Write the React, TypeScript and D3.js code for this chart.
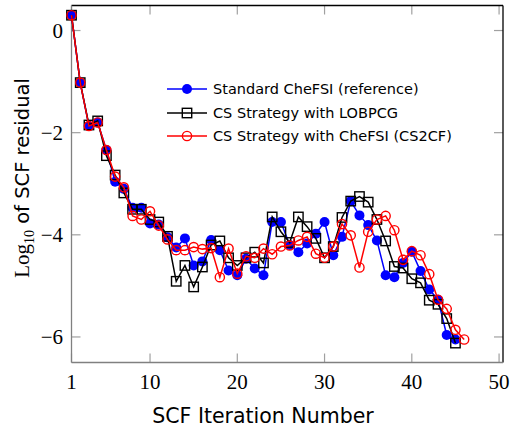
import React from 'react';
import * as d3 from 'd3';

// SCF iteration numbers and log10 residuals for each strategy
const standardIters = d3.range(1, 46);
const standardResidual = [
  0.30, -1.02, -1.87, -1.80, -2.34, -2.96, -3.10, -3.47, -3.47, -3.78,
  -3.80, -4.05, -4.25, -4.07, -4.60, -4.52, -4.10, -4.30, -4.70, -4.79,
  -4.47, -4.66, -4.79, -3.75, -3.75, -4.20, -4.34, -4.17, -3.98, -3.75,
  -4.40, -4.04, -3.34, -3.62, -3.81, -4.11, -4.79, -4.83, -4.55, -4.33,
  -4.71, -5.07, -5.27, -5.96, -6.05,
];

const lobpcgIters = d3.range(1, 46);
const lobpcgResidual = [
  0.30, -1.02, -1.85, -1.77, -2.45, -2.83, -3.18, -3.50, -3.50, -3.70,
  -3.75, -4.03, -4.91, -4.60, -5.02, -4.63, -4.20, -4.12, -4.45, -4.60,
  -4.45, -4.34, -4.55, -3.65, -3.94, -4.15, -3.65, -3.84, -4.07, -4.45,
  -4.23, -3.66, -3.34, -3.25, -3.36, -3.70, -4.12, -4.62, -4.65, -4.86,
  -4.94, -5.28, -5.36, -5.64, -6.12,
];

const cs2cfIters = d3.range(1, 47);
const cs2cfResidual = [
  0.30, -1.02, -1.87, -1.80, -2.34, -2.86, -3.07, -3.63, -3.70, -3.54,
  -3.82, -4.09, -4.30, -4.30, -4.24, -4.28, -4.26, -4.83, -4.27, -4.76,
  -4.42, -4.45, -4.27, -4.38, -4.23, -4.21, -4.11, -4.04, -4.37, -4.45,
  -4.23, -3.79, -4.01, -4.64, -3.94, -3.70, -3.63, -3.91, -4.49, -4.32,
  -4.40, -4.77, -5.27, -5.45, -5.86, -6.05,
];

const xTicks = [1, 10, 20, 30, 40, 50];
const yTicks = [0, -2, -4, -6];

const legendLabels = [
  'Standard CheFSI (reference)',
  'CS Strategy with LOBPCG',
  'CS Strategy with CheFSI (CS2CF)',
];

const W = 514;
const H = 433;
const left = 71.5;
const right = 503;
const top = 5.5;
const bottom = 362.5;

export default function App() {
  const x = d3.scaleLinear().domain([1, 50.45]).range([left, right]);
  const y = d3.scaleLinear().domain([-6.5, 0.49]).range([bottom, top]);

  const line = d3
    .line<[number, number]>()
    .x((d) => x(d[0]))
    .y((d) => y(d[1]));

  const blue = standardIters.map((it, i) => [it, standardResidual[i]] as [number, number]);
  const black = lobpcgIters.map((it, i) => [it, lobpcgResidual[i]] as [number, number]);
  const red = cs2cfIters.map((it, i) => [it, cs2cfResidual[i]] as [number, number]);

  const tickLen = 9;
  const tickColor = '#a0a0a0';
  const sq = 4.7;

  const legendY = [89, 113, 136];
  const lx0 = 167;
  const lx1 = 207;
  const lmid = (lx0 + lx1) / 2;

  return (
    <svg
      width={W}
      height={H}
      style={{ position: 'absolute', left: 0, top: 0, background: '#fff' }}
    >
      {/* ticks, inward on all four sides */}
      {xTicks.map((t) => (
        <g key={'xt' + t}>
          <line x1={x(t)} x2={x(t)} y1={bottom} y2={bottom - tickLen} stroke={tickColor} strokeWidth={1.2} />
          <line x1={x(t)} x2={x(t)} y1={top} y2={top + tickLen} stroke={tickColor} strokeWidth={1.2} />
          <text
            x={x(t)}
            y={389}
            textAnchor="middle"
            fontFamily="'Liberation Serif', 'DejaVu Serif', serif"
            fontSize={21}
            fill="#000"
          >
            {t}
          </text>
        </g>
      ))}
      {yTicks.map((t) => (
        <g key={'yt' + t}>
          <line x1={left} x2={left + tickLen} y1={y(t)} y2={y(t)} stroke={tickColor} strokeWidth={1.2} />
          <line x1={right} x2={right - tickLen} y1={y(t)} y2={y(t)} stroke={tickColor} strokeWidth={1.2} />
          <text
            x={63}
            y={y(t)}
            dy="0.35em"
            textAnchor="end"
            fontFamily="'Liberation Serif', 'DejaVu Serif', serif"
            fontSize={21}
            fill="#000"
          >
            {t < 0 ? '\u2212' + Math.abs(t) : t}
          </text>
        </g>
      ))}

      {/* frame */}
      <line x1={left} x2={right} y1={top} y2={top} stroke="#000" strokeWidth={1.3} />
      <line x1={right} x2={right} y1={top} y2={bottom} stroke="#000" strokeWidth={1.3} />
      <line x1={left} x2={left} y1={top} y2={bottom} stroke="#808080" strokeWidth={1.3} />
      <line x1={left} x2={right} y1={bottom} y2={bottom} stroke="#808080" strokeWidth={1.3} />

      {/* Standard CheFSI */}
      <path d={line(blue) || ''} fill="none" stroke="#0000ff" strokeWidth={1.5} />
      {blue.map((d, i) => (
        <circle key={'b' + i} cx={x(d[0])} cy={y(d[1])} r={5} fill="#0000ff" />
      ))}

      {/* LOBPCG */}
      <path d={line(black) || ''} fill="none" stroke="#000" strokeWidth={1.5} />
      {black.map((d, i) => (
        <rect
          key={'k' + i}
          x={x(d[0]) - sq}
          y={y(d[1]) - sq}
          width={sq * 2}
          height={sq * 2}
          fill="none"
          stroke="#000"
          strokeWidth={1.4}
        />
      ))}

      {/* CS2CF */}
      <path d={line(red) || ''} fill="none" stroke="#ff0000" strokeWidth={1.5} />
      {red.map((d, i) => (
        <circle key={'r' + i} cx={x(d[0])} cy={y(d[1])} r={4.6} fill="none" stroke="#ff0000" strokeWidth={1.4} />
      ))}

      {/* legend */}
      <g fontFamily="'DejaVu Sans', sans-serif" fontSize={14.5} fill="#000">
        <line x1={lx0} x2={lx1} y1={legendY[0]} y2={legendY[0]} stroke="#0000ff" strokeWidth={1.5} />
        <circle cx={lmid} cy={legendY[0]} r={5} fill="#0000ff" />
        <line x1={lx0} x2={lx1} y1={legendY[1]} y2={legendY[1]} stroke="#000" strokeWidth={1.5} />
        <rect x={lmid - sq} y={legendY[1] - sq} width={sq * 2} height={sq * 2} fill="none" stroke="#000" strokeWidth={1.4} />
        <line x1={lx0} x2={lx1} y1={legendY[2]} y2={legendY[2]} stroke="#ff0000" strokeWidth={1.5} />
        <circle cx={lmid} cy={legendY[2]} r={4.6} fill="none" stroke="#ff0000" strokeWidth={1.4} />
        {legendLabels.map((l, i) => (
          <text key={l} x={213} y={legendY[i]} dy="0.36em">
            {l}
          </text>
        ))}
      </g>

      {/* axis titles */}
      <text
        x={263}
        y={423}
        textAnchor="middle"
        fontFamily="'DejaVu Sans', sans-serif"
        fontSize={20.5}
        fill="#000"
      >
        SCF Iteration Number
      </text>
      <text
        transform="translate(29,178) rotate(-90)"
        textAnchor="middle"
        fontSize={19.5}
        fill="#000"
      >
        <tspan fontFamily="'Liberation Serif', 'DejaVu Serif', serif" fontSize={21}>Log</tspan>
        <tspan fontFamily="'Liberation Serif', 'DejaVu Serif', serif" fontSize={14} dy={5}>10</tspan>
        <tspan fontFamily="'DejaVu Sans', sans-serif" dy={-5}> of SCF residual</tspan>
      </text>
    </svg>
  );
}
